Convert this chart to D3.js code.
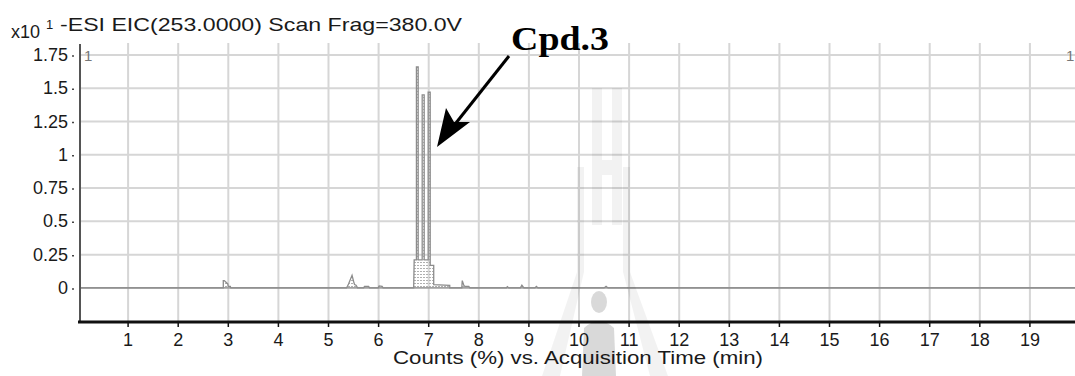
<!DOCTYPE html>
<html>
<head>
<meta charset="utf-8">
<script src="https://cdn.jsdelivr.net/npm/d3@7"></script>
<style>
  html, body { margin: 0; padding: 0; background: #fff; }
  svg { display: block; }
  text { font-family: "Liberation Sans", Arial, sans-serif; }
</style>
</head>
<body>
<svg id="chart" width="1075" height="376"></svg>
<script>
// Extracted ion chromatogram, m/z 253.0000 (counts x10^1 vs. time)
const timeMin = [
  0.04, 2.90, 2.90, 2.92, 2.99, 3.00, 3.04, 3.05,
  5.36, 5.40, 5.47, 5.50, 5.52, 5.55, 5.58,
  5.70, 5.72, 5.80, 5.82, 5.99, 6.01, 6.07, 6.09,
  6.70, 6.71, 6.755, 6.755, 6.79, 6.79, 6.87, 6.87, 6.91, 6.91, 6.99, 6.99, 7.03, 7.03, 7.10, 7.10,
  7.42, 7.42, 7.66, 7.67, 7.70, 7.72, 7.80, 7.82,
  8.55, 8.57, 8.60, 8.83, 8.86, 8.90, 9.12, 9.15, 9.18,
  10.50, 10.54, 10.58, 19.9
];
const counts = [
  0, 0, 0.055, 0.055, 0.03, 0.012, 0.012, 0,
  0, 0.03, 0.095, 0.05, 0.025, 0.02, 0,
  0, 0.012, 0.012, 0, 0, 0.015, 0.012, 0,
  0, 0.21, 0.21, 1.66, 1.66, 0.21, 0.21, 1.45, 1.45, 0.21, 0.21, 1.47, 1.47, 0.17, 0.17, 0.025,
  0.02, 0, 0, 0.055, 0.02, 0.012, 0.012, 0,
  0, 0.01, 0, 0, 0.02, 0, 0, 0.012, 0,
  0, 0.012, 0, 0
];
const xTicks = d3.range(1, 20);
const yTicks = [0, 0.25, 0.5, 0.75, 1, 1.25, 1.5, 1.75];
const yTickLabels = ["0", "0.25", "0.5", "0.75", "1", "1.25", "1.5", "1.75"];
const titleText = "-ESI EIC(253.0000) Scan Frag=380.0V";
const xTitle = "Counts (%) vs. Acquisition Time (min)";
const peakLabel = "Cpd.3";

const svg = d3.select("#chart");
const x = d3.scaleLinear().domain([0.04, 19.9]).range([80, 1075]);
const y = d3.scaleLinear().domain([-0.256, 1.825]).range([322, 45]);

// grid
const grid = svg.append("g").attr("stroke", "#d6d6d6").attr("stroke-width", 2);
grid.selectAll("line.v").data(xTicks).join("line")
  .attr("x1", d => x(d)).attr("x2", d => x(d))
  .attr("y1", 43).attr("y2", 322);
grid.selectAll("line.h").data(yTicks.filter(d => d !== 0)).join("line")
  .attr("x1", 80).attr("x2", 1075)
  .attr("y1", d => y(d)).attr("y2", d => y(d));
svg.append("line")
  .attr("x1", 80).attr("x2", 1075).attr("y1", y(0)).attr("y2", y(0))
  .attr("stroke", "#a0a0a0").attr("stroke-width", 1.6);

// hatch fill for the trace
const defs = svg.append("defs");
const pat = defs.append("pattern").attr("id", "hatch")
  .attr("patternUnits", "userSpaceOnUse").attr("width", 3).attr("height", 3);
pat.append("rect").attr("x", 0).attr("y", 1).attr("width", 2).attr("height", 1).attr("fill", "#b0b0b0");

const pts = timeMin.map((t, i) => [t, counts[i]]);
svg.append("path").datum(pts)
  .attr("fill", "url(#hatch)")
  .attr("d", d3.area().x(d => x(d[0])).y0(y(0)).y1(d => y(d[1])));
svg.append("path").datum(pts)
  .attr("fill", "none").attr("stroke", "#8c8c8c").attr("stroke-width", 1.3)
  .attr("d", d3.line().x(d => x(d[0])).y(d => y(d[1])));

// y axis
svg.append("line").attr("x1", 80).attr("x2", 80).attr("y1", 44).attr("y2", 322)
  .attr("stroke", "#555").attr("stroke-width", 2);
const yAx = svg.append("g");
yAx.selectAll("line").data(yTicks).join("line")
  .attr("x1", 72).attr("x2", 74).attr("y1", d => y(d) + 1).attr("y2", d => y(d) + 1)
  .attr("stroke", "#444").attr("stroke-width", 1.5);
yAx.selectAll("text").data(yTicks).join("text")
  .attr("x", 68).attr("y", d => y(d) + 6)
  .attr("text-anchor", "end").attr("font-size", 18).attr("fill", "#1a1a1a")
  .text((d, i) => yTickLabels[i]);

// x axis
svg.append("line").attr("x1", 78).attr("x2", 1075).attr("y1", 322).attr("y2", 322)
  .attr("stroke", "#111").attr("stroke-width", 3);
const xAx = svg.append("g");
xAx.selectAll("line").data(xTicks).join("line")
  .attr("x1", d => x(d)).attr("x2", d => x(d)).attr("y1", 322).attr("y2", 327)
  .attr("stroke", "#111").attr("stroke-width", 1.5);
xAx.selectAll("text").data(xTicks).join("text")
  .attr("x", d => x(d)).attr("y", 346)
  .attr("text-anchor", "middle").attr("font-size", 18).attr("fill", "#1a1a1a")
  .text(d => d);

svg.append("text").attr("x", 393).attr("y", 364)
  .attr("font-size", 18).attr("fill", "#1a1a1a")
  .attr("textLength", 370).attr("lengthAdjust", "spacingAndGlyphs")
  .text(xTitle);

// header
svg.append("text").attr("x", 11).attr("y", 38).attr("font-size", 18).attr("fill", "#1a1a1a").text("x10");
svg.append("text").attr("x", 46).attr("y", 29).attr("font-size", 13).attr("fill", "#1a1a1a").text("1");
svg.append("text").attr("x", 60).attr("y", 31).attr("font-size", 18.5).attr("fill", "#1a1a1a")
  .attr("textLength", 402).attr("lengthAdjust", "spacingAndGlyphs")
  .text(titleText);

// peak markers
svg.append("text").attr("x", 84).attr("y", 61).attr("font-size", 15).attr("fill", "#777").text("1");
svg.append("text").attr("x", 1066).attr("y", 61).attr("font-size", 15).attr("fill", "#777").text("1");

// compound annotation
svg.append("text").attr("x", 511).attr("y", 50)
  .style("font-family", "'Liberation Serif', 'Times New Roman', serif")
  .attr("font-weight", "bold").attr("font-size", 34).attr("fill", "#000")
  .attr("textLength", 98).attr("lengthAdjust", "spacingAndGlyphs")
  .text(peakLabel);
svg.append("line").attr("x1", 509).attr("y1", 56).attr("x2", 452).attr("y2", 128)
  .attr("stroke", "#000").attr("stroke-width", 3);
svg.append("path").attr("d", "M437,147 L446,108 L454,122 L470,122 Z").attr("fill", "#000");

// faint emblem laid over the plot
const wm = svg.append("g").attr("fill", "#000").attr("fill-opacity", 0.05);
wm.append("path").attr("d", "M592,88 L602,88 L602,160 L612,160 L612,88 L622,88 L622,225 L612,225 L612,175 L602,175 L602,225 L592,225 Z");
wm.append("path").attr("d", "M577,167 L584,167 L584,272 L560,376 L542,376 L577,272 Z");
wm.append("path").attr("d", "M623,167 L630,167 L630,272 L668,376 L650,376 L623,272 Z");
const person = svg.append("g").attr("fill", "#000").attr("fill-opacity", 0.15);
person.append("ellipse").attr("cx", 599).attr("cy", 302).attr("rx", 8).attr("ry", 11);
person.append("path").attr("d", "M582,376 L584,328 Q599,314 614,328 L616,376 Z");
</script>
</body>
</html>
